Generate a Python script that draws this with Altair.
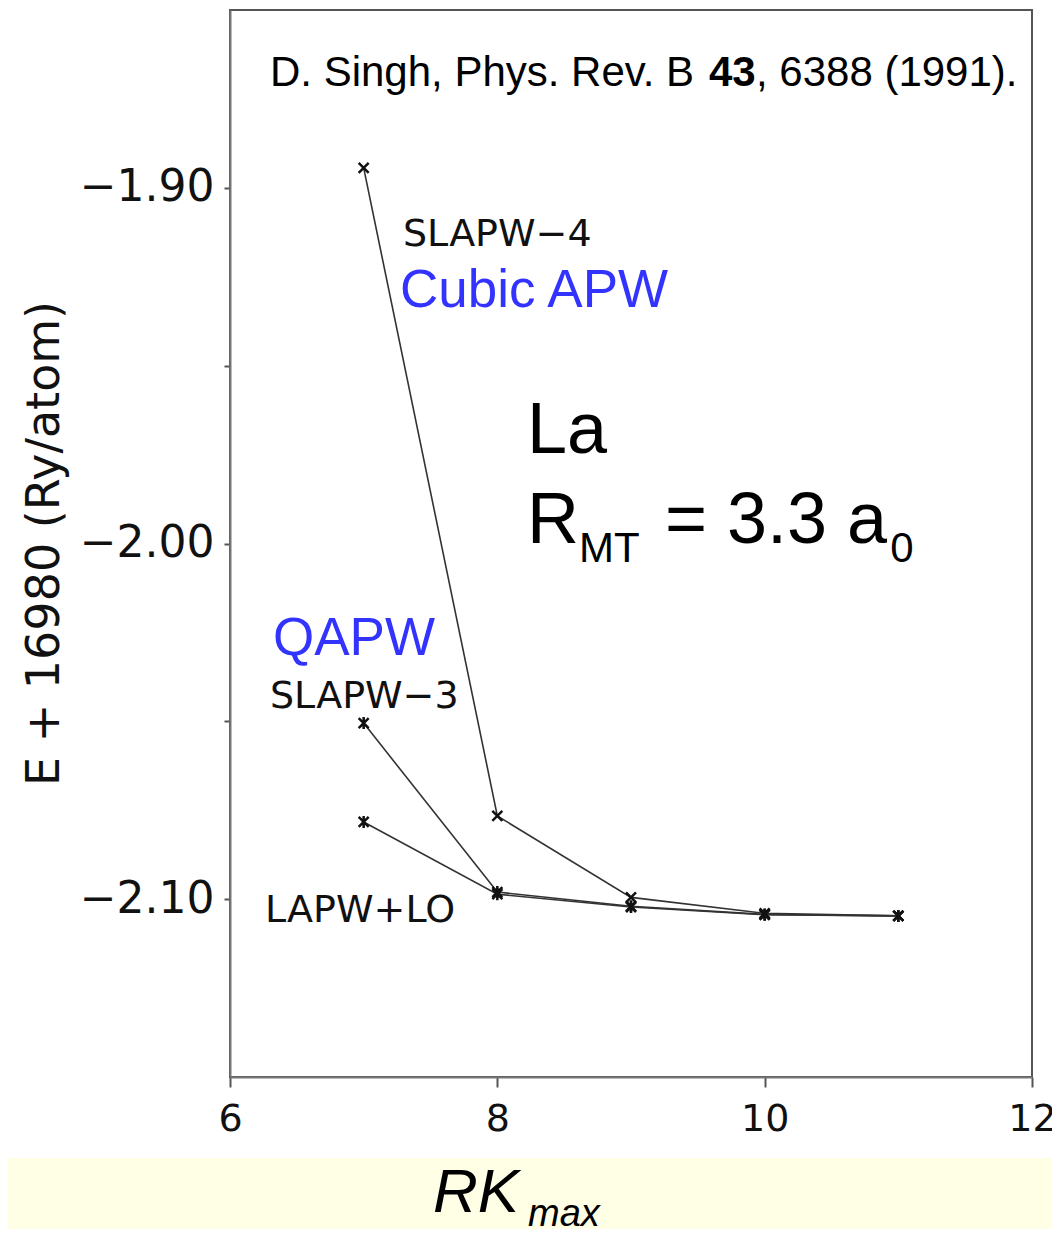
import altair as alt
import pandas as pd

# ---- data ----
rk = [7, 8, 9, 10, 11]
slapw4 = [-1.8944, -2.0766, -2.0995, -2.1040, -2.1047]
slapw3 = [-2.0505, -2.0980, -2.1020, -2.1043, -2.1047]
lapwlo = [-2.0783, -2.0986, -2.1022, -2.1044, -2.1047]
series_names = ["SLAPW-4", "SLAPW-3", "LAPW+LO"]

y_ticks = [-1.90, -1.95, -2.00, -2.05, -2.10]
x_ticks = [6, 8, 10, 12]

rows = []
for name, vals in zip(series_names, [slapw4, slapw3, lapwlo]):
    for xv, yv in zip(rk, vals):
        rows.append({"series": name, "rk": xv, "e": yv})
df = pd.DataFrame(rows)

X_SHAPE = "M-1,-1L1,1M-1,1L1,-1"
STAR_SHAPE = "M-1,-1L1,1M-1,1L1,-1M0,-1.2L0,1.2"

xs = alt.Scale(domain=[6, 12], nice=False, zero=False)
ys = alt.Scale(domain=[-2.15, -1.85], nice=False, zero=False)

x_enc = alt.X("rk:Q", scale=xs, axis=alt.Axis(
    values=x_ticks, format="d", title=None, grid=False,
    tickSize=10, tickColor="#555", tickWidth=2,
    domainColor="#777", domainWidth=2,
    labelFont="DejaVu Sans", labelFontSize=38, labelColor="#111",
    labelPadding=13, labelFlush=False))
y_enc = alt.Y("e:Q", scale=ys, axis=alt.Axis(
    values=y_ticks, grid=False,
    labelExpr="(round(abs(datum.value)*100) % 10 == 0) ? format(datum.value, '.2f') : ''",
    tickSize=6, tickColor="#555", tickWidth=2,
    domainColor="#777", domainWidth=2,
    labelFont="DejaVu Sans", labelFontSize=44, labelColor="#111",
    labelPadding=10,
    title="E + 16980 (Ry/atom)", titleFont="DejaVu Sans", titleFontSize=46,
    titleFontWeight="normal", titleColor="#111",
    titleX=-186, titleY=533, titleBaseline="middle", titleAngle=270))

lines = alt.Chart(df).mark_line(strokeWidth=1.6, color="#333").encode(
    x=x_enc, y=y_enc, detail="series:N", order="rk:Q")

points = alt.Chart(df).mark_point(filled=False, strokeWidth=2.5, size=100, color="#111", opacity=1).encode(
    x=alt.X("rk:Q", scale=xs), y=alt.Y("e:Q", scale=ys),
    shape=alt.Shape("series:N", scale=alt.Scale(domain=series_names,
                                                range=[X_SHAPE, STAR_SHAPE, STAR_SHAPE]),
                    legend=None))

# ---- annotations (data coordinates) ----
def txt(rows_, **kw):
    return alt.Chart(pd.DataFrame(rows_)).mark_text(align="left", baseline="alphabetic", **kw).encode(
        x=alt.X("x:Q", scale=xs), y=alt.Y("y:Q", scale=ys), text="t:N")

ref1 = txt([{"x": 6.299, "y": -1.8714, "t": "D. Singh, Phys. Rev. B "}],
           font="Liberation Sans", fontSize=42, color="#000")
ref2 = txt([{"x": 9.583, "y": -1.8714, "t": "43"}],
           font="Liberation Sans", fontSize=42, fontWeight="bold", color="#000")
ref3 = txt([{"x": 9.935, "y": -1.8714, "t": ", 6388 (1991)."}],
           font="Liberation Sans", fontSize=42, color="#000")

labels = txt([
    {"x": 7.294, "y": -1.9164, "t": "SLAPW\u22124"},
    {"x": 6.299, "y": -2.0462, "t": "SLAPW\u22123"},
    {"x": 6.262, "y": -2.1064, "t": "LAPW+LO"},
], font="DejaVu Sans", fontSize=38, color="#111")

blue = txt([
    {"x": 7.272, "y": -1.9335, "t": "Cubic APW"},
    {"x": 6.322, "y": -2.0313, "t": "QAPW"},
], font="Liberation Sans", fontSize=53, color="#3333ff")

big = txt([
    {"x": 8.222, "y": -1.9746, "t": "La"},
    {"x": 8.222, "y": -1.9999, "t": "R"},
    {"x": 9.254, "y": -1.9999, "t": "= 3.3 a"},
], font="Liberation Sans", fontSize=72, color="#000")
small = txt([
    {"x": 8.611, "y": -2.0052, "t": "MT"},
    {"x": 10.94, "y": -2.0052, "t": "0"},
], font="Liberation Sans", fontSize=42, color="#000")

# ---- bottom yellow band with RK_max label ----
band = alt.Chart(pd.DataFrame({"a": [0]})).mark_rect(color="#ffffe6", clip=False).encode(
    x=alt.value(-222), x2=alt.value(822), y=alt.value(1148), y2=alt.value(1219))
rk_txt = alt.Chart(pd.DataFrame({"t": ["RK"]})).mark_text(
    align="left", baseline="alphabetic", font="Liberation Sans", fontStyle="italic",
    fontSize=62, color="#000").encode(x=alt.value(203), y=alt.value(1202), text="t:N")
max_txt = alt.Chart(pd.DataFrame({"t": ["max"]})).mark_text(
    align="left", baseline="alphabetic", font="Liberation Sans", fontStyle="italic",
    fontSize=38, color="#000").encode(x=alt.value(298), y=alt.value(1216), text="t:N")

chart = alt.layer(band, lines, points, ref1, ref2, ref3, labels, blue, big, small,
                  rk_txt, max_txt).properties(
    width=802, height=1067,
    autosize=alt.AutoSizeParams(type="none"),
    padding={"left": 222, "top": 2, "right": 20, "bottom": 152},
    background="white",
).configure_view(stroke="#555", strokeWidth=2)

chart.save("out.html", embed_options={"renderer": "svg", "actions": False})
